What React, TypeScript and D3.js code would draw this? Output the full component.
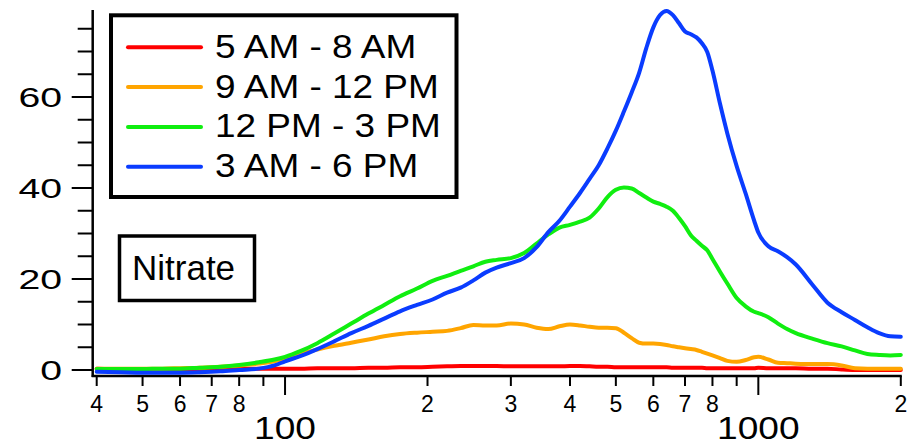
import React, { useEffect, useRef } from "react";
import * as d3 from "d3";

// particle size (log axis) and mass distribution for each time window
const sizes = [40, 45, 50, 55, 60, 66, 73, 80, 88, 95, 100, 108, 117, 127, 138, 150, 162, 175, 190, 205, 220, 235, 250, 265, 280, 300, 320, 340, 360, 380, 400, 420, 440, 460, 480, 500, 520, 540, 560, 580, 600, 620, 640, 660, 680, 700, 720, 740, 760, 780, 800, 830, 860, 900, 940, 980, 1000, 1050, 1100, 1150, 1200, 1300, 1400, 1500, 1600, 1700, 1800, 1900, 2000];

const red = [0.3, 0.2, 0.2, 0.2, 0.2, 0.2, 0.2, 0.3, 0.3, 0.3, 0.3, 0.3, 0.4, 0.4, 0.4, 0.5, 0.5, 0.6, 0.6, 0.7, 0.8, 0.9, 0.9, 0.9, 0.9, 0.8, 0.8, 0.8, 0.8, 0.8, 0.9, 0.9, 0.8, 0.7, 0.7, 0.6, 0.6, 0.6, 0.6, 0.6, 0.6, 0.6, 0.6, 0.5, 0.5, 0.5, 0.5, 0.5, 0.5, 0.4, 0.4, 0.4, 0.4, 0.4, 0.4, 0.4, 0.5, 0.4, 0.4, 0.4, 0.4, 0.3, 0.3, 0.1, 0.0, 0.0, 0.0, 0.0, 0.0];

const orange = [0.3, 0.3, 0.3, 0.3, 0.4, 0.5, 0.7, 1.0, 1.4, 1.9, 2.5, 3.6, 4.5, 5.3, 6.0, 6.7, 7.4, 7.9, 8.2, 8.4, 8.6, 9.2, 9.9, 9.8, 9.8, 10.2, 10.0, 9.3, 9.0, 9.6, 10.0, 9.8, 9.5, 9.3, 9.3, 9.2, 8.2, 7.0, 6.0, 5.8, 5.8, 5.7, 5.5, 5.2, 5.0, 4.8, 4.6, 4.4, 4.0, 3.6, 3.2, 2.6, 2.0, 1.8, 2.2, 2.8, 2.9, 2.3, 1.6, 1.5, 1.4, 1.3, 1.3, 1.0, 0.4, 0.3, 0.3, 0.3, 0.3];

const green = [0.2, 0.2, 0.2, 0.3, 0.3, 0.5, 0.7, 1.1, 1.7, 2.3, 2.9, 4.2, 5.9, 8.0, 10.2, 12.4, 14.3, 16.2, 17.9, 19.6, 20.7, 21.8, 22.8, 23.8, 24.2, 24.6, 25.7, 27.8, 29.8, 31.3, 31.9, 32.6, 33.5, 35.5, 38.0, 39.6, 40.1, 39.9, 38.9, 37.9, 37.0, 36.5, 35.9, 35.0, 33.4, 31.6, 29.6, 28.4, 27.3, 26.3, 24.4, 21.6, 19.0, 15.8, 14.0, 12.8, 12.5, 11.6, 10.2, 9.0, 8.1, 6.9, 5.9, 5.2, 4.3, 3.5, 3.3, 3.2, 3.3];

const blue = [-0.4, -0.5, -0.6, -0.6, -0.6, -0.5, -0.3, 0.0, 0.3, 1.0, 1.9, 3.1, 4.6, 6.3, 8.1, 9.7, 11.3, 12.9, 14.3, 15.5, 17.0, 18.1, 19.7, 21.4, 22.5, 23.5, 24.6, 27.0, 30.3, 32.8, 35.9, 38.9, 42.0, 45.0, 48.7, 52.6, 56.8, 61.0, 65.3, 70.8, 75.3, 78.0, 78.9, 78.0, 76.2, 74.4, 73.8, 73.1, 71.8, 69.9, 65.8, 58.5, 52.0, 44.8, 38.8, 32.8, 30.2, 27.2, 26.1, 24.8, 23.2, 18.8, 14.8, 12.7, 11.0, 9.4, 8.1, 7.4, 7.3];

const seriesNames = ["5 AM - 8 AM", "9 AM - 12 PM", "12 PM - 3 PM", "3 AM - 6 PM"];
const seriesColors = ["#ff0000", "#ffa500", "#10ee10", "#0a3cff"];

const yMajorTicks = [0, 20, 40, 60];
const yMinorTicks = [5, 10, 15, 25, 30, 35, 45, 50, 55, 65, 70, 75];
const xMinorTicks = [40, 50, 60, 70, 80, 90, 200, 300, 400, 500, 600, 700, 800, 900, 2000];
const xMinorLabels = ["4", "5", "6", "7", "8", "", "2", "3", "4", "5", "6", "7", "8", "", "2"];
const xMajorTicks = [100, 1000];

const FONT = "'Liberation Sans', Arial, sans-serif";

function App() {
  const ref = useRef<SVGSVGElement>(null);

  useEffect(() => {
    const svg = d3.select(ref.current);
    svg.selectAll("*").remove();

    const x = d3.scaleLog().domain([40, 2000]).range([96.7, 900.8]);
    const y = d3.scaleLinear().domain([0, 60]).range([370, 97]);

    const axisX = 92.7;
    const axisBottom = 376;
    const axisTop = y(79.1);

    // y axis
    svg
      .append("line")
      .attr("x1", axisX)
      .attr("x2", axisX)
      .attr("y1", axisTop)
      .attr("y2", axisBottom + 1)
      .attr("stroke", "#000")
      .attr("stroke-width", 2.5);

    svg
      .selectAll(".ymaj")
      .data(yMajorTicks)
      .enter()
      .append("line")
      .attr("x1", axisX - 21)
      .attr("x2", axisX)
      .attr("y1", d => y(d))
      .attr("y2", d => y(d))
      .attr("stroke", "#000")
      .attr("stroke-width", 2);

    svg
      .selectAll(".ymin")
      .data(yMinorTicks)
      .enter()
      .append("line")
      .attr("x1", axisX - 15)
      .attr("x2", axisX)
      .attr("y1", d => y(d))
      .attr("y2", d => y(d))
      .attr("stroke", "#000")
      .attr("stroke-width", 2);

    svg
      .selectAll(".ylab")
      .data(yMajorTicks)
      .enter()
      .append("text")
      .attr("transform", d => `translate(62, ${y(d) + 10}) scale(1.4, 1)`)
      .attr("text-anchor", "end")
      .style("font-family", FONT)
      .style("font-size", "28px")
      .text(d => d);

    // x axis
    svg
      .append("line")
      .attr("x1", axisX - 1)
      .attr("x2", x(2000) + 1)
      .attr("y1", axisBottom)
      .attr("y2", axisBottom)
      .attr("stroke", "#000")
      .attr("stroke-width", 2.5);

    svg
      .selectAll(".xmin")
      .data(xMinorTicks)
      .enter()
      .append("line")
      .attr("x1", d => x(d))
      .attr("x2", d => x(d))
      .attr("y1", axisBottom)
      .attr("y2", axisBottom + 10)
      .attr("stroke", "#000")
      .attr("stroke-width", 2);

    svg
      .selectAll(".xmaj")
      .data(xMajorTicks)
      .enter()
      .append("line")
      .attr("x1", d => x(d))
      .attr("x2", d => x(d))
      .attr("y1", axisBottom)
      .attr("y2", axisBottom + 19)
      .attr("stroke", "#000")
      .attr("stroke-width", 2);

    svg
      .selectAll(".xlab")
      .data(xMinorTicks)
      .enter()
      .append("text")
      .attr("x", d => x(d))
      .attr("y", 412)
      .attr("text-anchor", "middle")
      .style("font-family", FONT)
      .style("font-size", "23px")
      .text((d, i) => xMinorLabels[i]);

    svg
      .selectAll(".xdec")
      .data(xMajorTicks)
      .enter()
      .append("text")
      .attr("transform", d => `translate(${x(d)}, 439) scale(1.16, 1)`)
      .attr("text-anchor", "middle")
      .style("font-family", FONT)
      .style("font-size", "32px")
      .text(d => d);

    // data lines
    const series = [red, orange, green, blue];
    const line = d3
      .line<number>()
      .x((d, i) => x(sizes[i]))
      .y(d => y(d))
      .curve(d3.curveMonotoneX);

    svg
      .selectAll(".series")
      .data(series)
      .enter()
      .append("path")
      .attr("d", d => line(d))
      .attr("fill", "none")
      .attr("stroke", (d, i) => seriesColors[i])
      .attr("stroke-width", 4)
      .attr("stroke-linejoin", "round")
      .attr("stroke-linecap", "round");

    // legend
    svg
      .append("rect")
      .attr("x", 111)
      .attr("y", 15.3)
      .attr("width", 345.5)
      .attr("height", 181.7)
      .attr("fill", "#fff")
      .attr("stroke", "#000")
      .attr("stroke-width", 4);

    const legend = svg
      .selectAll(".legend")
      .data(seriesNames)
      .enter()
      .append("g")
      .attr("transform", (d, i) => `translate(0, ${47.3 + i * 39.8})`);

    legend
      .append("line")
      .attr("x1", 128)
      .attr("x2", 201)
      .attr("y1", 0)
      .attr("y2", 0)
      .attr("stroke", (d, i) => seriesColors[i])
      .attr("stroke-width", 4)
      .attr("stroke-linecap", "round");

    legend
      .append("text")
      .attr("transform", "translate(215, 10.5) scale(1.12, 1)")
      .style("font-family", FONT)
      .style("font-size", "33px")
      .text(d => d);

    // species label
    svg
      .append("rect")
      .attr("x", 119.5)
      .attr("y", 236)
      .attr("width", 135)
      .attr("height", 64.5)
      .attr("fill", "#fff")
      .attr("stroke", "#000")
      .attr("stroke-width", 3.5);

    svg
      .append("text")
      .attr("x", 132)
      .attr("y", 280)
      .style("font-family", FONT)
      .style("font-size", "35px")
      .text("Nitrate");
  });

  return (
    <div style={{ position: "absolute", left: 0, top: 0 }}>
      <svg ref={ref} width={910} height={446} style={{ display: "block", background: "#fff" }} />
    </div>
  );
}

export default App;
